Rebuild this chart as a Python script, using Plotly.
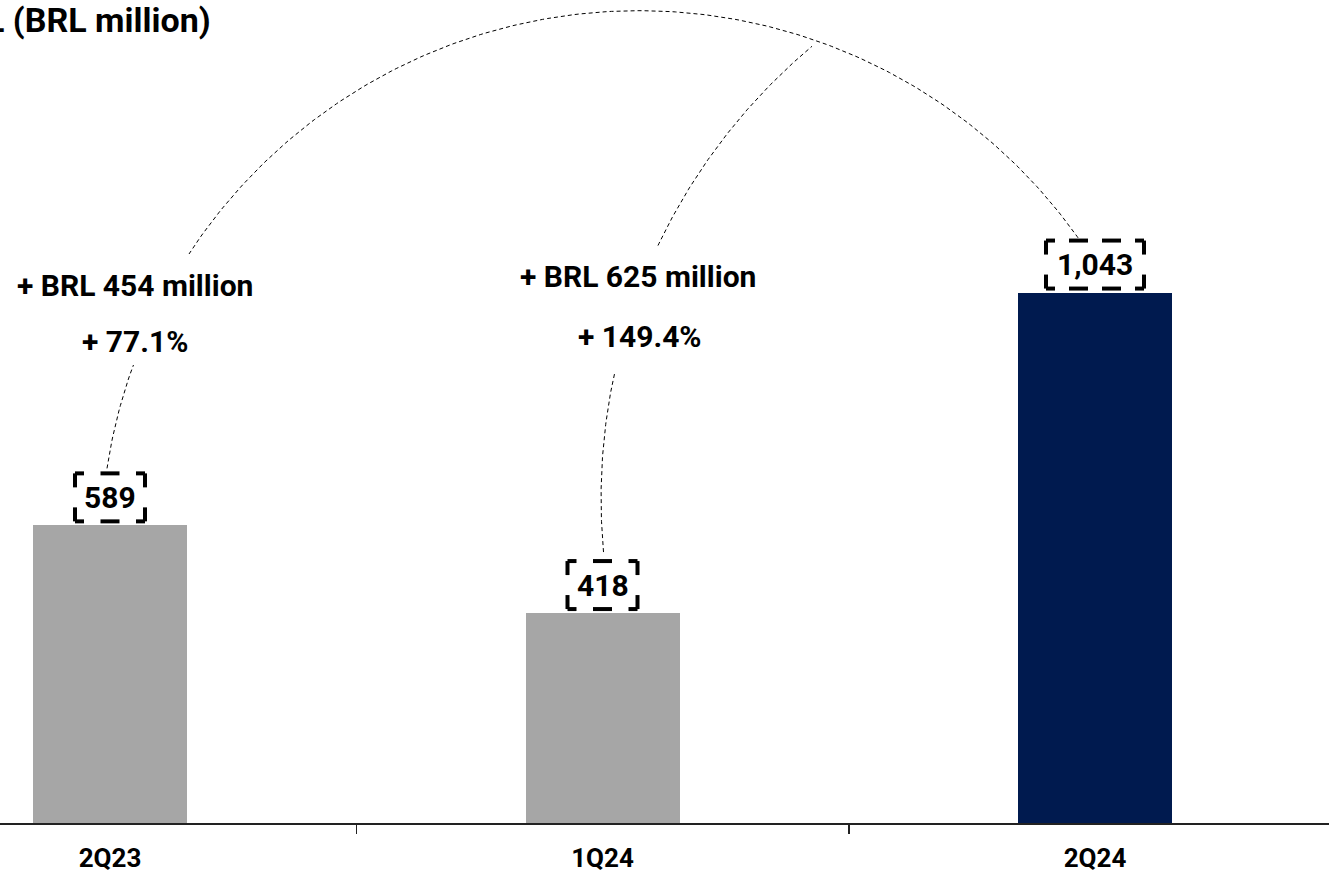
import math
import plotly.graph_objects as go

# ---------------- data ----------------
categories = ["2Q23", "1Q24", "2Q24"]
values = [589, 418, 1043]
value_labels = ["589", "418", "1,043"]
bar_colors = ["#a6a6a6", "#a6a6a6", "#001a4f"]
change_abs = ["+ BRL 454 million", "+ BRL 625 million"]
change_pct = ["+ 77.1%", "+ 149.4%"]
title_text = "L (BRL million)"

# ---------------- layout constants ----------------
W, H = 1329, 872
BASE_PX = 823      # pixel row of the category axis
K = 0.5128         # pixels per BRL million
Y_MIN = 8.6        # value at the axis line
X0_PX = 110        # pixel column of first category
STEP = 492.5       # pixels between categories
x_range = [-X0_PX / STEP, (W - X0_PX) / STEP]
y_range = [Y_MIN, Y_MIN + BASE_PX / K]
FONT = "Roboto"


def to_px(cat, val):
    return X0_PX + cat * STEP, BASE_PX - (val - Y_MIN) * K


def to_data(px, py):
    return (px - X0_PX) / STEP, Y_MIN + (BASE_PX - py) / K


def circle_arc(S, E, r, n=240):
    (x1, y1), (x2, y2) = S, E
    mx, my = (x1 + x2) / 2, (y1 + y2) / 2
    dx, dy = x2 - x1, y2 - y1
    L = math.hypot(dx, dy)
    h = math.sqrt(max(r * r - (L / 2) ** 2, 0))
    ux, uy = -dy / L, dx / L
    cx, cy = mx + h * ux, my + h * uy
    a1 = math.atan2(y1 - cy, x1 - cx)
    a2 = math.atan2(y2 - cy, x2 - cx)
    d = a2 - a1
    if d > math.pi:
        d -= 2 * math.pi
    if d < -math.pi:
        d += 2 * math.pi
    pts = []
    for i in range(n + 1):
        a = a1 + d * i / n
        pts.append((cx + r * math.cos(a), cy + r * math.sin(a)))
    return pts, (cx, cy)


fig = go.Figure()

fig.add_trace(go.Bar(
    x=list(range(len(categories))), y=values, base=0, width=154 / STEP,
    marker=dict(color=bar_colors, line=dict(width=0)),
    hoverinfo="skip", showlegend=False,
))

# ---------------- connector arcs ----------------
sx, sy = to_px(0, values[0])
ex, ey = to_px(2, values[2])
R1 = 538
arc1, c1 = circle_arc((sx - 3, sy - 57), (ex - 15, ey - 52), R1)
tx = 812
ty = c1[1] - math.sqrt(R1 ** 2 - (tx - c1[0]) ** 2) + 7
s2x, s2y = to_px(1, values[1])
arc2, _ = circle_arc((s2x + 1, s2y - 61), (tx, ty), 590)

for arc in (arc1, arc2):
    xs, ys = zip(*[to_data(px, py) for px, py in arc])
    fig.add_trace(go.Scatter(
        x=xs, y=ys, mode="lines",
        line=dict(color="#000000", width=1, dash="4px,3px"),
        hoverinfo="skip", showlegend=False, cliponaxis=False,
    ))

shapes = []
annotations = []

# ---------------- value labels in dashed boxes ----------------
LW = 4
CORNER_H, CORNER_V, DASH, GAP = 9, 14, 19, 16
for i, (v, lab) in enumerate(zip(values, value_labels)):
    w = 28 + 14 * len(lab)
    h = 48
    x0, x1, y0, y1 = -w / 2, w / 2, 4, 4 + h
    segs = []
    for cx_, sxn in ((x0, 1), (x1, -1)):
        for cy_, syn in ((y0, 1), (y1, -1)):
            segs.append((cx_, cy_, cx_ + sxn * CORNER_H, cy_))
            segs.append((cx_, cy_, cx_, cy_ + syn * CORNER_V))
    inner = w - 2 * CORNER_H
    n = max(1, round((inner - GAP) / (DASH + GAP)))
    gap = (inner - n * DASH) / (n + 1)
    for k in range(n):
        a = x0 + CORNER_H + gap + k * (DASH + gap)
        for yy in (y0, y1):
            segs.append((a, yy, a + DASH, yy))
    for (a, b, c, d) in segs:
        shapes.append(dict(
            type="line", xref="x", yref="y", xsizemode="pixel", ysizemode="pixel",
            xanchor=i, yanchor=v, x0=a, y0=b, x1=c, y1=d,
            line=dict(color="#000000", width=LW), layer="above",
        ))
    annotations.append(dict(
        x=i, y=v, xref="x", yref="y", text=lab, showarrow=False,
        yanchor="middle", yshift=28,
        font=dict(family=FONT, size=30, color="#000000", weight="bold"),
    ))

# ---------------- change texts (white blocks hide the arcs) ----------------
blocks = [
    dict(rect=(12, 254, 258, 365), l1=(135, 285), l2=(135, 341)),
    dict(rect=(514, 247, 763, 374), l1=(638, 276), l2=(640, 336)),
]
for b, a_txt, p_txt in zip(blocks, change_abs, change_pct):
    bx0, by0 = to_data(b["rect"][0], b["rect"][3])
    bx1, by1 = to_data(b["rect"][2], b["rect"][1])
    shapes.append(dict(type="rect", xref="x", yref="y", x0=bx0, x1=bx1, y0=by0, y1=by1,
                       fillcolor="#ffffff", line=dict(width=0), layer="above"))
    for (px, py), t in ((b["l1"], a_txt), (b["l2"], p_txt)):
        dx_, dy_ = to_data(px, py)
        annotations.append(dict(
            x=dx_, y=dy_, xref="x", yref="y", text=t, showarrow=False,
            xanchor="center", yanchor="middle",
            font=dict(family=FONT, size=30, color="#000000", weight="bold"),
        ))

# ---------------- title (cropped at the left edge as in the source) ----------------
annotations.append(dict(
    x=213 / W, y=(BASE_PX - 20) / BASE_PX, xref="paper", yref="paper",
    text=title_text, showarrow=False, xanchor="right", yanchor="middle",
    font=dict(family=FONT, size=34, color="#000000", weight="bold"),
))

fig.update_layout(
    width=W, height=H,
    margin=dict(l=0, r=0, t=0, b=H - BASE_PX, pad=0, autoexpand=False),
    paper_bgcolor="#ffffff", plot_bgcolor="#ffffff",
    showlegend=False, bargap=0,
    shapes=shapes, annotations=annotations,
    xaxis=dict(
        range=x_range, showgrid=False, zeroline=False, automargin=False,
        tickvals=list(range(len(categories))), ticktext=categories,
        ticks="", ticklabelstandoff=11,
        tickfont=dict(family=FONT, size=26, color="#000000", weight="bold"),
        showline=True, linecolor="#222222", linewidth=1.5,
        minor=dict(tickvals=[0.5, 1.5], ticks="outside", ticklen=9,
                   tickwidth=1.5, tickcolor="#222222"),
        fixedrange=True,
    ),
    yaxis=dict(range=y_range, visible=False, showgrid=False, zeroline=False,
               fixedrange=True, automargin=False),
)

fig.write_html(
    "out.html",
    config={"displayModeBar": False, "staticPlot": True},
    post_script="document.body.style.margin='0';document.body.style.overflow='hidden';",
)
